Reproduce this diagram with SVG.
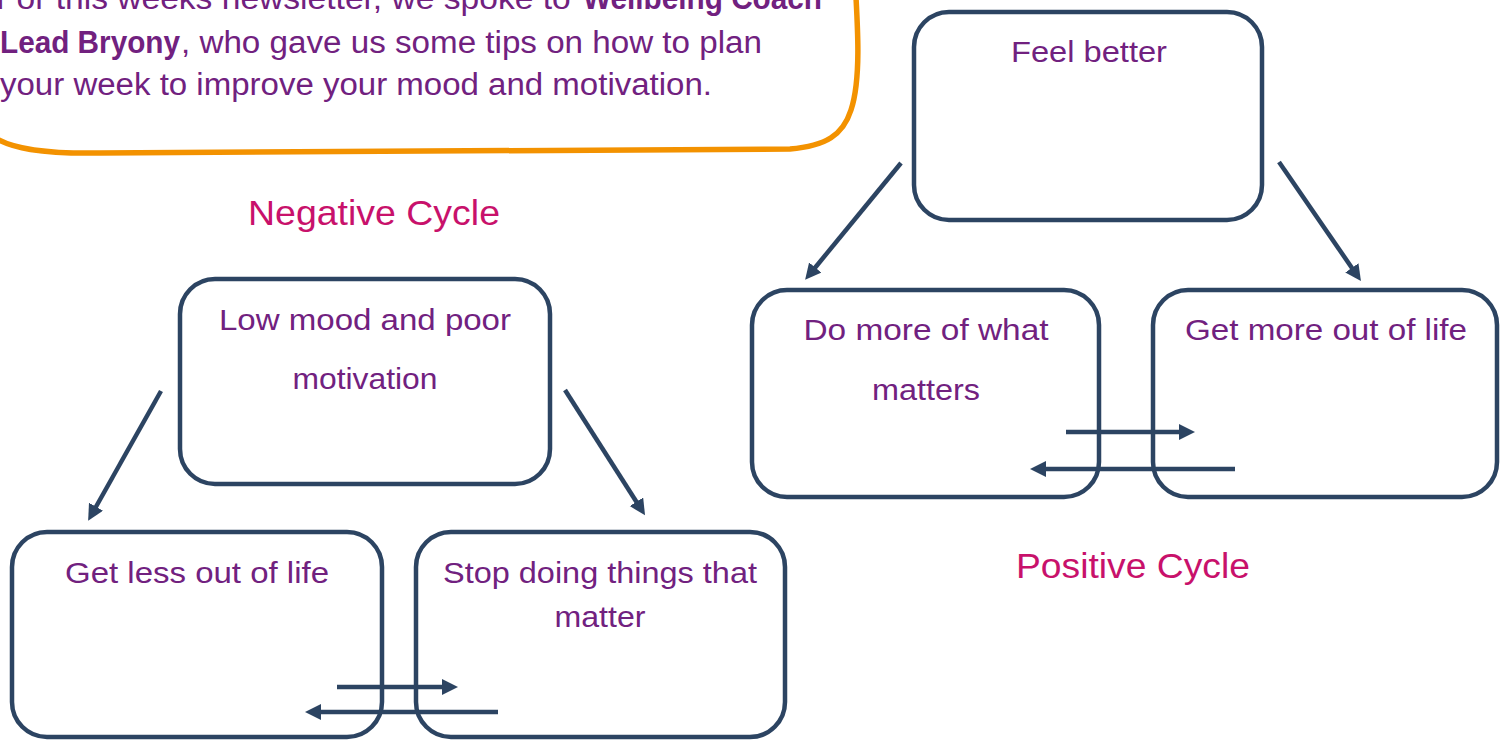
<svg xmlns="http://www.w3.org/2000/svg" width="1501" height="740" viewBox="0 0 1501 740">
  <style>
    .box { fill: #ffffff; stroke: #2c4462; stroke-width: 4.5; }
    .lbl { font-family: "Liberation Sans", "DejaVu Sans", sans-serif; font-size: 30px; fill: #71217f; text-anchor: middle; }
    .intro { font-family: "Liberation Sans", "DejaVu Sans", sans-serif; font-size: 31px; fill: #71217f; }
    .intro .b { font-weight: bold; }
    .title { font-family: "Liberation Sans", "DejaVu Sans", sans-serif; font-size: 35px; fill: #c8116b; text-anchor: middle; }
    .arrow { stroke: #2c4462; stroke-width: 4.5; fill: none; marker-end: url(#head); }
  </style>
  <defs>
    <marker id="head" markerUnits="userSpaceOnUse" markerWidth="18" markerHeight="18" refX="2" refY="8" orient="auto">
      <path d="M0,0 L16,8 L0,16 Z" fill="#2c4462"/>
    </marker>
  </defs>

  <rect x="0" y="0" width="1501" height="740" fill="#ffffff"/>

  <!-- newsletter callout -->
  <g id="intro">
    <path d="M 855,-20 C 858,30 861,80 851,110 C 843,135 826,146 790,149 L 100,153 C 40,154 10,148 -6,137" fill="#ffffff" stroke="#f39200" stroke-width="5.5"/>
    <text class="intro" y="9">
      <tspan x="-4" textLength="584" lengthAdjust="spacingAndGlyphs">For this weeks newsletter, we spoke to </tspan><tspan class="b" x="583" textLength="239" lengthAdjust="spacingAndGlyphs">Wellbeing Coach</tspan>
    </text>
    <text class="intro" y="53">
      <tspan class="b" x="0" textLength="180" lengthAdjust="spacingAndGlyphs">Lead Bryony</tspan><tspan x="181" textLength="581" lengthAdjust="spacingAndGlyphs">, who gave us some tips on how to plan</tspan>
    </text>
    <text class="intro" x="0" y="95" textLength="712" lengthAdjust="spacingAndGlyphs">your week to improve your mood and motivation.</text>
  </g>

  <!-- cycle titles -->
  <text id="negative-title" class="title" x="374" y="225" textLength="252" lengthAdjust="spacingAndGlyphs">Negative Cycle</text>
  <text id="positive-title" class="title" x="1133" y="578" textLength="234" lengthAdjust="spacingAndGlyphs">Positive Cycle</text>

  <!-- negative cycle nodes -->
  <g id="low-mood">
    <rect class="box" x="180" y="279" width="370" height="205" rx="35"/>
    <text class="lbl" x="365" y="330" textLength="292" lengthAdjust="spacingAndGlyphs">Low mood and poor</text>
    <text class="lbl" x="365" y="389" textLength="145" lengthAdjust="spacingAndGlyphs">motivation</text>
  </g>
  <g id="get-less">
    <rect class="box" x="12" y="532" width="370" height="205" rx="35"/>
    <text class="lbl" x="197" y="583" textLength="264" lengthAdjust="spacingAndGlyphs">Get less out of life</text>
  </g>
  <g id="stop-doing">
    <rect class="box" x="416" y="532" width="369" height="205" rx="35"/>
    <text class="lbl" x="600" y="583" textLength="314" lengthAdjust="spacingAndGlyphs">Stop doing things that</text>
    <text class="lbl" x="600" y="627" textLength="91" lengthAdjust="spacingAndGlyphs">matter</text>
  </g>

  <!-- positive cycle nodes -->
  <g id="feel-better">
    <rect class="box" x="914" y="12" width="348" height="208" rx="35"/>
    <text class="lbl" x="1089" y="62" textLength="156" lengthAdjust="spacingAndGlyphs">Feel better</text>
  </g>
  <g id="do-more">
    <rect class="box" x="752" y="290" width="347" height="207" rx="35"/>
    <text class="lbl" x="926" y="340" textLength="245" lengthAdjust="spacingAndGlyphs">Do more of what</text>
    <text class="lbl" x="926" y="400" textLength="108" lengthAdjust="spacingAndGlyphs">matters</text>
  </g>
  <g id="get-more">
    <rect class="box" x="1153" y="290" width="344" height="207" rx="35"/>
    <text class="lbl" x="1326" y="340" textLength="282" lengthAdjust="spacingAndGlyphs">Get more out of life</text>
  </g>

  <!-- connectors -->
  <g id="connectors">
    <line class="arrow" x1="161" y1="391" x2="95" y2="508.5"/>
    <line class="arrow" x1="565" y1="390" x2="637.5" y2="503.5"/>
    <line class="arrow" x1="337" y1="687" x2="444" y2="687"/>
    <line class="arrow" x1="498" y1="712" x2="319" y2="712"/>
    <line class="arrow" x1="901" y1="163" x2="814" y2="269"/>
    <line class="arrow" x1="1279" y1="162" x2="1353" y2="269.5"/>
    <line class="arrow" x1="1066" y1="432" x2="1181" y2="432"/>
    <line class="arrow" x1="1235" y1="469" x2="1044" y2="469"/>
  </g>
</svg>
